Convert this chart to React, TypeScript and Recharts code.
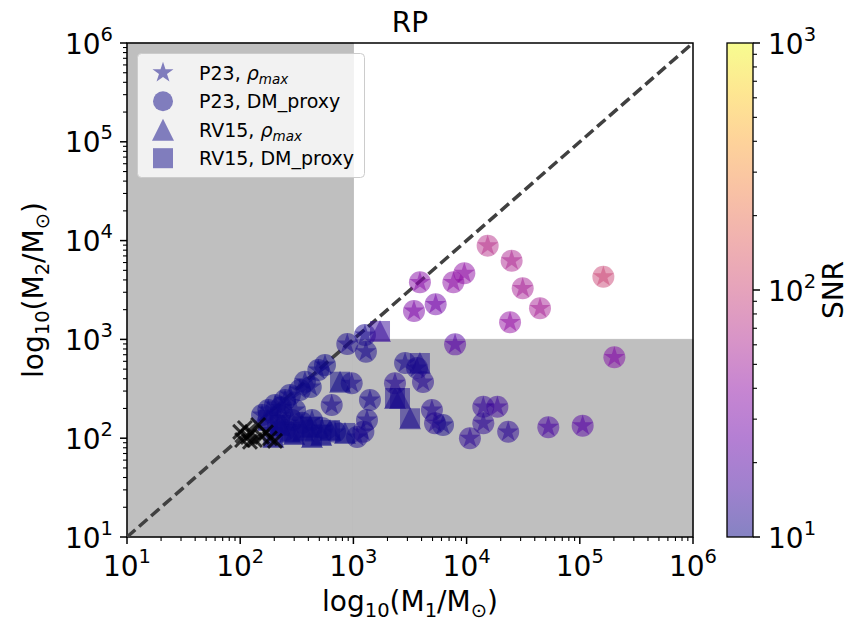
import React from "react";
import { ScatterChart, Scatter, XAxis, YAxis, ReferenceArea, ReferenceLine } from "recharts";

const FONT = "'DejaVu Sans', sans-serif";
const W = 853;
const H = 621;
const PLOT = { left: 127, top: 43, right: 693, bottom: 537 };

// axis ticks (log decades + minor steps)
const majorTicks = [10, 100, 1000, 10000, 100000, 1000000];
const minorSteps = [2, 3, 4, 5, 6, 7, 8, 9];
const axisTicks = majorTicks.flatMap((d, i) =>
  i < majorTicks.length - 1 ? [d, ...minorSteps.map((k) => k * d)] : [d]
);
const snrTicks = [10, 100, 1000];

// P23 haloes: circle = DM_proxy, star = rho_max
const p23Points = [
  { m1: 15350, m2: 8870, snr: 70 },
  { m1: 25000, m2: 6270, snr: 60 },
  { m1: 31300, m2: 3290, snr: 55 },
  { m1: 44500, m2: 2065, snr: 56 },
  { m1: 24200, m2: 1490, snr: 42 },
  { m1: 161500, m2: 4310, snr: 100 },
  { m1: 202000, m2: 659, snr: 34 },
  { m1: 7910, m2: 891, snr: 20 },
  { m1: 3870, m2: 3785, snr: 35 },
  { m1: 7640, m2: 3785, snr: 38 },
  { m1: 9550, m2: 4670, snr: 40 },
  { m1: 3430, m2: 1940, snr: 31 },
  { m1: 5330, m2: 2265, snr: 28 },
  { m1: 883, m2: 898, snr: 11 },
  { m1: 1265, m2: 1110, snr: 11 },
  { m1: 1290, m2: 751, snr: 11 },
  { m1: 561, m2: 551, snr: 10 },
  { m1: 490, m2: 490, snr: 10 },
  { m1: 373, m2: 373, snr: 10 },
  { m1: 337, m2: 308, snr: 10 },
  { m1: 275, m2: 274, snr: 10 },
  { m1: 249, m2: 244, snr: 10 },
  { m1: 203, m2: 217, snr: 10 },
  { m1: 177, m2: 193, snr: 10 },
  { m1: 156, m2: 172, snr: 10 },
  { m1: 643, m2: 217, snr: 11 },
  { m1: 966, m2: 360, snr: 11 },
  { m1: 2330, m2: 360, snr: 12 },
  { m1: 1400, m2: 244, snr: 11 },
  { m1: 2860, m2: 577, snr: 11 },
  { m1: 3650, m2: 514, snr: 11 },
  { m1: 4120, m2: 371, snr: 12 },
  { m1: 1318, m2: 153, snr: 11 },
  { m1: 1225, m2: 116, snr: 11 },
  { m1: 1077, m2: 103, snr: 11 },
  { m1: 4940, m2: 193, snr: 12 },
  { m1: 5260, m2: 142, snr: 12 },
  { m1: 6190, m2: 136, snr: 11 },
  { m1: 10700, m2: 100, snr: 13 },
  { m1: 14050, m2: 208, snr: 14 },
  { m1: 18700, m2: 208, snr: 15 },
  { m1: 14050, m2: 142, snr: 13 },
  { m1: 23300, m2: 116, snr: 13 },
  { m1: 52700, m2: 129, snr: 17 },
  { m1: 106000, m2: 134, snr: 20 },
  { m1: 287, m2: 153, snr: 10 },
  { m1: 352, m2: 143, snr: 10 },
  { m1: 431, m2: 153, snr: 10 },
  { m1: 249, m2: 121, snr: 10 },
  { m1: 216, m2: 136, snr: 10 },
  { m1: 528, m2: 127, snr: 10 },
  { m1: 688, m2: 116, snr: 10 },
  { m1: 225, m2: 172, snr: 10 },
  { m1: 305, m2: 193, snr: 10 },
  { m1: 420, m2: 330, snr: 10 },
  { m1: 230, m2: 205, snr: 10 },
];

// RV15 haloes: square = DM_proxy, triangle = rho_max
const rv15Points = [
  { m1: 1718, m2: 1216, snr: 14 },
  { m1: 2580, m2: 255, snr: 11 },
  { m1: 3165, m2: 159, snr: 11 },
  { m1: 3870, m2: 577, snr: 11 },
  { m1: 762, m2: 373, snr: 10 },
  { m1: 275, m2: 116, snr: 10 },
  { m1: 414, m2: 130, snr: 10 },
  { m1: 621, m2: 121, snr: 10 },
  { m1: 843, m2: 113, snr: 10 },
  { m1: 431, m2: 103, snr: 10 },
  { m1: 176, m2: 153, snr: 10 },
  { m1: 225, m2: 136, snr: 10 },
  { m1: 2330, m2: 255, snr: 11 },
  { m1: 196, m2: 103, snr: 10 },
  { m1: 300, m2: 110, snr: 10 },
  { m1: 360, m2: 120, snr: 10 },
  { m1: 520, m2: 108, snr: 10 },
];

// non-detections (black crosses)
const crossPoints = [
  { m1: 100, m2: 116 },
  { m1: 117, m2: 103 },
  { m1: 110, m2: 127 },
  { m1: 127, m2: 113 },
  { m1: 144, m2: 136 },
  { m1: 156, m2: 103 },
  { m1: 135, m2: 96 },
  { m1: 169, m2: 115 },
  { m1: 183, m2: 100 },
  { m1: 203, m2: 94 },
  { m1: 122, m2: 92 },
  { m1: 104, m2: 96 },
];

const plasmaStops = [
  "#0d0887", "#41049d", "#6a00a8", "#8f0da4", "#b12a90", "#cc4778",
  "#e16462", "#f2844b", "#fca636", "#fcce25", "#f0f921",
];

function hexRgb(h: string) {
  return [1, 3, 5].map((i) => parseInt(h.slice(i, i + 2), 16));
}

function plasma(t: number) {
  const c = Math.max(0, Math.min(1, t)) * (plasmaStops.length - 1);
  const i = Math.min(Math.floor(c), plasmaStops.length - 2);
  const f = c - i;
  const a = hexRgb(plasmaStops[i]);
  const b = hexRgb(plasmaStops[i + 1]);
  const rgb = a.map((v, k) => Math.round(v + (b[k] - v) * f));
  return `rgb(${rgb.join(",")})`;
}

const snrColor = (snr: number) => plasma((Math.log10(snr) - 1) / 2);

function starPath(cx: number, cy: number, R: number) {
  const r = R * 0.382;
  const pts: string[] = [];
  for (let i = 0; i < 10; i++) {
    const a = -Math.PI / 2 + (i * Math.PI) / 5;
    const rr = i % 2 === 0 ? R : r;
    pts.push(`${cx + rr * Math.cos(a)},${cy + rr * Math.sin(a)}`);
  }
  return `M${pts.join("L")}Z`;
}

const CircleShape = (p: any) => (
  <circle cx={p.cx} cy={p.cy} r={11} fill={snrColor(p.payload.snr)} fillOpacity={0.5} />
);
const StarShape = (p: any) => (
  <path d={starPath(p.cx, p.cy, 11)} fill={snrColor(p.payload.snr)} fillOpacity={0.5} />
);
const SquareShape = (p: any) => (
  <rect x={p.cx - 10} y={p.cy - 10} width={20} height={20} fill={snrColor(p.payload.snr)} fillOpacity={0.5} />
);
const TriangleShape = (p: any) => (
  <path
    d={`M${p.cx},${p.cy - 11}L${p.cx - 11},${p.cy + 11}L${p.cx + 11},${p.cy + 11}Z`}
    fill={snrColor(p.payload.snr)}
    fillOpacity={0.5}
  />
);
const CrossShape = (p: any) => (
  <g stroke="#000" strokeOpacity={0.75} strokeWidth={3}>
    <line x1={p.cx - 7} y1={p.cy - 7} x2={p.cx + 7} y2={p.cy + 7} />
    <line x1={p.cx - 7} y1={p.cy + 7} x2={p.cx + 7} y2={p.cy - 7} />
  </g>
);

const expOf = (v: number) => Math.round(Math.log10(v));

const XTick = (props: any) => {
  const { x, y, payload } = props;
  const major = majorTicks.includes(payload.value);
  return (
    <g>
      <line x1={x} x2={x} y1={y} y2={y + (major ? 7 : 4)} stroke="#000" strokeWidth={major ? 1.5 : 1.1} />
      {major && (
        <text x={x} y={y + 39} textAnchor="middle" fontFamily={FONT} fontSize={28} fill="#000">
          10<tspan dy={-13} fontSize={19.5}>{expOf(payload.value)}</tspan>
        </text>
      )}
    </g>
  );
};

const YTick = (props: any) => {
  const { x, y, payload } = props;
  const major = majorTicks.includes(payload.value);
  return (
    <g>
      <line x1={x - (major ? 7 : 4)} x2={x} y1={y} y2={y} stroke="#000" strokeWidth={major ? 1.5 : 1.1} />
      {major && (
        <text x={x - 14} y={y + 10.5} textAnchor="end" fontFamily={FONT} fontSize={28} fill="#000">
          10<tspan dy={-13} fontSize={19.5}>{expOf(payload.value)}</tspan>
        </text>
      )}
    </g>
  );
};

// colorbar geometry
const CB = { left: 727, right: 753, top: 43, bottom: 537 };
const cbY = (v: number) => CB.bottom - ((Math.log10(v) - 1) / 2) * (CB.bottom - CB.top);
const cbMinor = [10, 100].flatMap((d) => minorSteps.map((k) => k * d));

const legendRows = [
  { marker: "star", label: "P23, ", math: true },
  { marker: "circle", label: "P23, DM_proxy", math: false },
  { marker: "triangle", label: "RV15, ", math: true },
  { marker: "square", label: "RV15, DM_proxy", math: false },
];

function LegendMarker({ kind, cx, cy }: { kind: string; cx: number; cy: number }) {
  const fill = snrColor(10);
  if (kind === "star") return <path d={starPath(cx, cy, 11)} fill={fill} fillOpacity={0.5} />;
  if (kind === "circle") return <circle cx={cx} cy={cy} r={10} fill={fill} fillOpacity={0.5} />;
  if (kind === "triangle")
    return <path d={`M${cx},${cy - 11}L${cx - 11},${cy + 11}L${cx + 11},${cy + 11}Z`} fill={fill} fillOpacity={0.5} />;
  return <rect x={cx - 10} y={cy - 10} width={20} height={20} fill={fill} fillOpacity={0.5} />;
}

export default function App() {
  return (
    <div style={{ position: "fixed", left: 0, top: 0, width: W, height: H, background: "#fff" }}>
      <div style={{ position: "absolute", left: 0, top: 0 }}>
        <ScatterChart
          width={W}
          height={H}
          margin={{ top: PLOT.top, right: W - PLOT.right, bottom: 0, left: 0 }}
        >
          <XAxis
            type="number"
            dataKey="m1"
            scale="log"
            domain={[10, 1000000]}
            ticks={axisTicks}
            interval={0}
            tick={<XTick />}
            tickLine={false}
            axisLine={false}
            tickSize={0}
            tickMargin={0}
            allowDataOverflow
            height={H - PLOT.bottom}
          />
          <YAxis
            type="number"
            dataKey="m2"
            scale="log"
            domain={[10, 1000000]}
            ticks={axisTicks}
            interval={0}
            tick={<YTick />}
            tickLine={false}
            axisLine={false}
            tickSize={0}
            tickMargin={0}
            allowDataOverflow
            width={PLOT.left}
          />
          <ReferenceArea x1={10} x2={1000} y1={10} y2={1000000} fill="#bfbfbf" fillOpacity={1} stroke="#bfbfbf" strokeWidth={1} />
          <ReferenceArea x1={1000} x2={1000000} y1={10} y2={1000} fill="#bfbfbf" fillOpacity={1} stroke="#bfbfbf" strokeWidth={1} />
          <Scatter data={p23Points} shape={CircleShape} isAnimationActive={false} />
          <Scatter data={p23Points} shape={StarShape} isAnimationActive={false} />
          <Scatter data={rv15Points} shape={SquareShape} isAnimationActive={false} />
          <Scatter data={rv15Points} shape={TriangleShape} isAnimationActive={false} />
          <ReferenceLine
            segment={[{ x: 10, y: 10 }, { x: 1000000, y: 1000000 }]}
            stroke="#404040"
            strokeWidth={3.5}
            strokeDasharray="11 5"
          />
          <Scatter data={crossPoints} shape={CrossShape} isAnimationActive={false} />
          <ReferenceArea x1={10} x2={1000000} y1={10} y2={1000000} fill="none" stroke="#000" strokeWidth={1.5} />
        </ScatterChart>
      </div>

      <svg width={W} height={H} style={{ position: "absolute", left: 0, top: 0, pointerEvents: "none" }}>
        <defs>
          <linearGradient id="plasmaGrad" x1="0" y1="1" x2="0" y2="0">
            {plasmaStops.map((c, i) => (
              <stop key={i} offset={i / (plasmaStops.length - 1)} stopColor={c} />
            ))}
          </linearGradient>
        </defs>

        {/* title and axis labels */}
        <text x={410} y={32} textAnchor="middle" fontFamily={FONT} fontSize={28}>RP</text>
        <text x={410} y={611} textAnchor="middle" fontFamily={FONT} fontSize={28}>
          log<tspan dy={6} fontSize={19.5}>10</tspan>
          <tspan dy={-6}>(M</tspan>
          <tspan dy={6} fontSize={19.5}>1</tspan>
          <tspan dy={-6}>/M</tspan>
          <tspan dy={6} fontSize={19.5}>⊙</tspan>
          <tspan dy={-6}>)</tspan>
        </text>
        <text
          transform="translate(43,290) rotate(-90)"
          textAnchor="middle"
          fontFamily={FONT}
          fontSize={28}
        >
          log<tspan dy={6} fontSize={19.5}>10</tspan>
          <tspan dy={-6}>(M</tspan>
          <tspan dy={6} fontSize={19.5}>2</tspan>
          <tspan dy={-6}>/M</tspan>
          <tspan dy={6} fontSize={19.5}>⊙</tspan>
          <tspan dy={-6}>)</tspan>
        </text>

        {/* legend */}
        <rect x={137.5} y={53.5} width={227} height={124} rx={4} fill="#fff" fillOpacity={0.8} stroke="#cccccc" />
        {legendRows.map((r, i) => {
          const cy = 72.7 + i * 28.5;
          return (
            <g key={i}>
              <LegendMarker kind={r.marker} cx={163} cy={cy} />
              <text x={199} y={cy + 7} fontFamily={FONT} fontSize={19} fill="#000">
                {r.label}
                {r.math && (
                  <>
                    <tspan fontStyle="italic">ρ</tspan>
                    <tspan fontStyle="italic" fontSize={13.5} dy={4}>max</tspan>
                  </>
                )}
              </text>
            </g>
          );
        })}

        {/* colorbar */}
        <rect x={CB.left} y={CB.top} width={CB.right - CB.left} height={CB.bottom - CB.top} fill="#fff" />
        <rect
          x={CB.left}
          y={CB.top}
          width={CB.right - CB.left}
          height={CB.bottom - CB.top}
          fill="url(#plasmaGrad)"
          fillOpacity={0.5}
        />
        <rect
          x={CB.left}
          y={CB.top}
          width={CB.right - CB.left}
          height={CB.bottom - CB.top}
          fill="none"
          stroke="#000"
          strokeWidth={1.3}
        />
        {cbMinor.map((v) => (
          <line key={v} x1={CB.right} x2={CB.right + 4} y1={cbY(v)} y2={cbY(v)} stroke="#000" strokeWidth={1.1} />
        ))}
        {snrTicks.map((v) => (
          <g key={v}>
            <line x1={CB.right} x2={CB.right + 7} y1={cbY(v)} y2={cbY(v)} stroke="#000" strokeWidth={1.5} />
            <text x={CB.right + 15} y={cbY(v) + 10.5} fontFamily={FONT} fontSize={28}>
              10<tspan dy={-13} fontSize={19.5}>{expOf(v)}</tspan>
            </text>
          </g>
        ))}
        <text transform="translate(843,290) rotate(-90)" textAnchor="middle" fontFamily={FONT} fontSize={28}>
          SNR
        </text>
      </svg>
    </div>
  );
}
